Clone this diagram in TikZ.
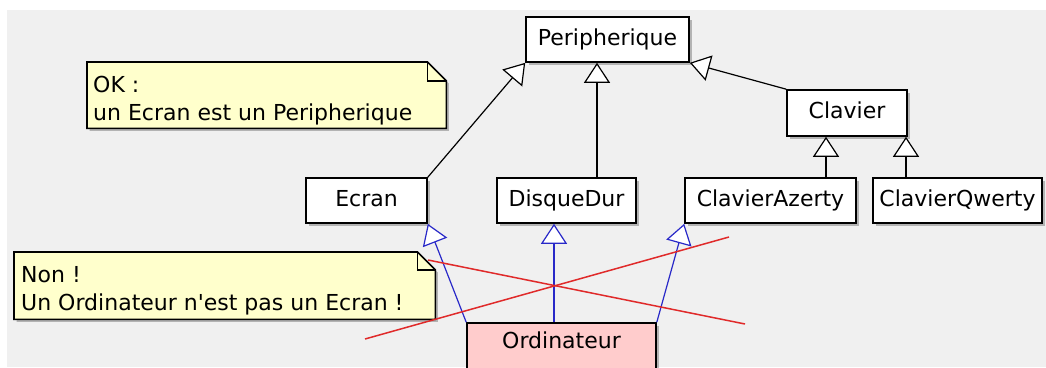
\documentclass[tikz,border=0pt]{standalone}
\usepackage{fontspec}
\setmainfont{DejaVu Sans}
\usetikzlibrary{arrows.meta,shadows}
\definecolor{bgray}{HTML}{F0F0F0}
\definecolor{notefill}{HTML}{FFFFCC}
\definecolor{pinkfill}{HTML}{FFCCCC}
\definecolor{umlblue}{HTML}{2828C8}
\definecolor{crossred}{HTML}{E02A2A}
\begin{document}
\begin{tikzpicture}[x=1pt,y=-1pt,
  boxshadow/.style={drop shadow={shadow xshift=2.5pt,shadow yshift=-2.5pt,opacity=0.25,fill=black}},
  cls/.style={draw=black, line width=1.6pt, fill=white, inner sep=0pt,
    minimum height=45pt, text height=16pt, text depth=5pt,
    font=\fontsize{22}{26}\selectfont, boxshadow},
  gen/.style={line width=1.2pt, -{Triangle[open,length=20pt,width=26pt,fill=white]}},
  bgen/.style={gen, draw=umlblue},
  notebox/.style={draw=none, inner sep=0pt, anchor=north west},
  notepath/.style={draw=black, line width=1.6pt, fill=notefill, line join=miter},
  notetext/.style={anchor=base west, inner sep=0pt, font=\fontsize{22}{28}\selectfont},
  cross/.style={draw=crossred, line width=1.5pt}
]
\useasboundingbox (0,0) rectangle (1046,367);
\fill[white] (0,0) rectangle (1046,367);
\fill[bgray] (7,10) rectangle (1046,367);

% classes
\node[cls, minimum width=163pt] (peri) at (607.5,39.5) {Peripherique};
\node[cls, minimum width=121pt] (ecran) at (366.5,200.5) {Ecran};
\node[cls, minimum width=139pt] (disque) at (566.5,200.5) {DisqueDur};
\node[cls, minimum width=120pt, minimum height=46pt] (clavier) at (847,113) {Clavier};
\node[cls, minimum width=171pt] (azerty) at (770.5,200.5) {ClavierAzerty};
\node[cls, minimum width=169pt] (qwerty) at (957.5,200.5) {ClavierQwerty};
\node[cls, fill=pinkfill, minimum width=189pt, minimum height=60pt, text depth=25pt] (ordi) at (561.5,353) {Ordinateur};

% notes
\node[notebox, minimum width=359pt, minimum height=66pt] (ok) at (87,62) {};
\path[notepath, boxshadow] (ok.north west) -- ([xshift=-19pt]ok.north east) -- ([yshift=-19pt]ok.north east) -- (ok.south east) -- (ok.south west) -- cycle;
\draw[line width=1.2pt] ([xshift=-19pt]ok.north east) -- ([xshift=-19pt,yshift=-19pt]ok.north east) -- ([yshift=-19pt]ok.north east);
\node[notetext] (okA) at (93,92) {OK :};
\node[notetext] (okB) at (93,120) {un Ecran est un Peripherique};

\node[notebox, minimum width=421pt, minimum height=67pt] (non) at (14,252) {};
\path[notepath, boxshadow] (non.north west) -- ([xshift=-18pt]non.north east) -- ([yshift=-18pt]non.north east) -- (non.south east) -- (non.south west) -- cycle;
\draw[line width=1.2pt] ([xshift=-18pt]non.north east) -- ([xshift=-18pt,yshift=-18pt]non.north east) -- ([yshift=-18pt]non.north east);
\node[notetext] (nonA) at (21,282) {Non !};
\node[notetext] (nonB) at (21,310) {Un Ordinateur n\textquotesingle est pas un Ecran !};

% generalisations (black)
\coordinate (dx) at (597,0);
\coordinate (ax) at (826,0);
\coordinate (qx) at (906,0);
\coordinate (ox) at (554,0);
\draw[gen] (ecran.north east) -- (peri.south west);
\draw[gen] (disque.north -| dx) -- (peri.south -| dx);
\draw[gen] (clavier.north west) -- (peri.south east);
\draw[gen] (azerty.north -| ax) -- (clavier.south -| ax);
\draw[gen] (qwerty.north -| qx) -- (clavier.south -| qx);

% generalisations (blue)
\draw[bgen] (ordi.north west) -- (ecran.south east);
\draw[bgen] (ordi.north -| ox) -- (disque.south -| ox);
\draw[bgen] (ordi.north east) -- (azerty.south west);

% red crosses
\coordinate (r1a) at (428,260);
\coordinate (r1b) at (745,324);
\coordinate (r2a) at (365,339);
\coordinate (r2b) at (729,237);
\draw[cross] (r1a) -- (r1b);
\draw[cross] (r2a) -- (r2b);
\end{tikzpicture}
\end{document}
